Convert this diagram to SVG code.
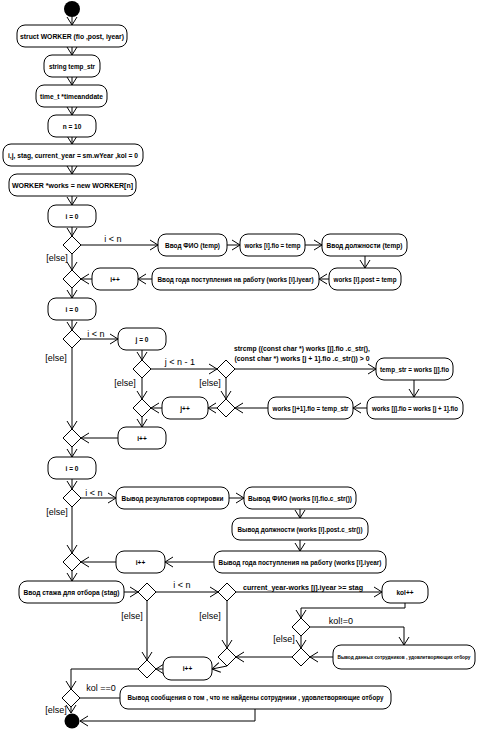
<svg xmlns="http://www.w3.org/2000/svg" width="477" height="731" viewBox="0 0 477 731">
<style>
rect.b{fill:#fff;stroke:#000;stroke-width:1}
polygon.d{fill:#fff;stroke:#000;stroke-width:1}
.t{font-family:"Liberation Sans",Arial,sans-serif;font-size:6.5px;font-weight:bold;text-anchor:middle;dominant-baseline:central}
.l{font-family:"Liberation Sans",Arial,sans-serif;font-size:9px;text-anchor:middle;dominant-baseline:central}
.c path{fill:none;stroke:#000;stroke-width:1}
.c path.a{marker-end:url(#ah)}
</style>
<defs>
<marker id="ah" markerWidth="10" markerHeight="12" refX="9" refY="6" orient="auto" markerUnits="userSpaceOnUse"><path d="M1,1 L9,6 L1,11" fill="none" stroke="#000" stroke-width="1"/></marker>
</defs>
<rect width="477" height="731" fill="#fff"/>
<g class="c" id="connectors">
<path class="a" d="M72,17 V25"/>
<path class="a" d="M72,47 V55"/>
<path class="a" d="M72,77 V85"/>
<path class="a" d="M72,107 V115"/>
<path class="a" d="M72,137 V144"/>
<path class="a" d="M72,166 V174"/>
<path class="a" d="M72,196 V205"/>
<path class="a" d="M72,227 V236"/>
<path class="a" d="M81,245 H158"/>
<path class="a" d="M227,245 H240"/>
<path class="a" d="M305,245 H322"/>
<path class="a" d="M365,256 V268"/>
<path class="a" d="M329,279 H319"/>
<path class="a" d="M152,279 H138"/>
<path class="a" d="M92,279 H81"/>
<path class="a" d="M72,254 V270"/>
<path class="a" d="M72,288 V298"/>
<path class="a" d="M72,320 V330"/>
<path class="a" d="M81,339 H118"/>
<path class="a" d="M72,348 V429"/>
<path class="a" d="M142,350 V360"/>
<path class="a" d="M151,369 H217"/>
<path class="a" d="M235,369 H376"/>
<path class="a" d="M142,378 V399"/>
<path class="a" d="M226,378 V399"/>
<path class="a" d="M414,380 V397"/>
<path class="a" d="M367,408 H353"/>
<path class="a" d="M268,408 H235"/>
<path class="a" d="M217,408 H208"/>
<path class="a" d="M162,408 H151"/>
<path class="a" d="M142,417 V427"/>
<path class="a" d="M118,438 H81"/>
<path class="a" d="M72,447 V457"/>
<path class="a" d="M72,479 V489"/>
<path class="a" d="M81,498 H116"/>
<path class="a" d="M229,498 H244"/>
<path class="a" d="M300,509 V518"/>
<path class="a" d="M300,540 V551"/>
<path class="a" d="M214,562 H165"/>
<path class="a" d="M116,562 H81"/>
<path class="a" d="M72,507 V553"/>
<path class="a" d="M72,571 V581"/>
<path class="a" d="M124,592 H138"/>
<path class="a" d="M156,592 H218"/>
<path class="a" d="M236,592 H382"/>
<path class="a" d="M405,603 V608 H301 V618"/>
<path class="a" d="M310,627 H404 V645"/>
<path class="a" d="M301,636 V648"/>
<path class="a" d="M333,657 H310"/>
<path class="a" d="M292,657 H236"/>
<path class="a" d="M227,601 V648"/>
<path class="a" d="M227,666 L212,669"/>
<path class="a" d="M163,669 H156"/>
<path class="a" d="M147,601 V660"/>
<path class="a" d="M138,669 H71 V689"/>
<path d="M80,698 H120"/>
<path class="a" d="M71,707 V713"/>
<path class="a" d="M255,709 V721 H80"/>
</g>
<g id="labels">
<text class="l" x="113" y="239">i &lt; n</text>
<text class="l" x="57" y="258">[else]</text>
<text class="l" x="96" y="334">i &lt; n</text>
<text class="l" x="56" y="358">[else]</text>
<text class="l" x="180" y="362">j &lt; n - 1</text>
<text class="l" x="125" y="383">[else]</text>
<text class="l" x="210" y="383">[else]</text>
<text class="t" x="302" y="348" textLength="136" lengthAdjust="spacingAndGlyphs">strcmp ((const char *) works [j].fio .c_str(),</text>
<text class="t" x="302" y="358" textLength="135" lengthAdjust="spacingAndGlyphs">(const char *) works [j + 1].fio .c_str()) &gt; 0</text>
<text class="l" x="94" y="493">i &lt; n</text>
<text class="l" x="57" y="512">[else]</text>
<text class="l" x="182" y="585">i &lt; n</text>
<text class="t" x="303" y="587" textLength="120" lengthAdjust="spacingAndGlyphs">current_year-works [j].iyear &gt;= stag</text>
<text class="l" x="132" y="616">[else]</text>
<text class="l" x="210" y="616">[else]</text>
<text class="l" x="341" y="621">kol!=0</text>
<text class="l" x="284" y="639">[else]</text>
<text class="l" x="101" y="688">kol  ==0</text>
<text class="l" x="56" y="710">[else]</text>
</g>
<g id="start"><circle cx="72" cy="9" r="8" fill="#000"/></g>
<g id="n1"><rect class="b" x="17" y="25" width="110" height="22" rx="8"/><text class="t" x="72" y="36" textLength="104" lengthAdjust="spacingAndGlyphs">struct WORKER (fio ,post, iyear)</text></g>
<g id="n2"><rect class="b" x="44" y="55" width="56" height="22" rx="8"/><text class="t" x="72" y="66" textLength="46" lengthAdjust="spacingAndGlyphs">string temp_str</text></g>
<g id="n3"><rect class="b" x="36" y="85" width="71" height="22" rx="8"/><text class="t" x="71.5" y="96" textLength="63" lengthAdjust="spacingAndGlyphs">time_t *timeanddate</text></g>
<g id="n4"><rect class="b" x="48" y="115" width="48" height="22" rx="8"/><text class="t" x="72" y="126">n = 10</text></g>
<g id="n5"><rect class="b" x="3" y="144" width="140" height="22" rx="8"/><text class="t" x="73" y="155" textLength="130" lengthAdjust="spacingAndGlyphs">i,j, stag, current_year = sm.wYear ,kol = 0</text></g>
<g id="n6"><rect class="b" x="9" y="174" width="127" height="22" rx="8"/><text class="t" x="72.5" y="185" textLength="121" lengthAdjust="spacingAndGlyphs">WORKER *works = new WORKER[n]</text></g>
<g id="n7"><rect class="b" x="48" y="205" width="48" height="22" rx="8"/><text class="t" x="72" y="216">i = 0</text></g>
<g id="d1"><polygon class="d" points="72,236 81,245 72,254 63,245"/></g>
<g id="n8"><rect class="b" x="158" y="234" width="69" height="22" rx="8"/><text class="t" x="192.5" y="245" textLength="55" lengthAdjust="spacingAndGlyphs">Ввод ФИО  (temp)</text></g>
<g id="n9"><rect class="b" x="240" y="234" width="65" height="22" rx="8"/><text class="t" x="272.5" y="245" textLength="56" lengthAdjust="spacingAndGlyphs">works [i].fio = temp</text></g>
<g id="n10"><rect class="b" x="322" y="234" width="85" height="22" rx="8"/><text class="t" x="364.5" y="245" textLength="76" lengthAdjust="spacingAndGlyphs">Ввод должности  (temp)</text></g>
<g id="n11"><rect class="b" x="329" y="268" width="72" height="22" rx="8"/><text class="t" x="365" y="279" textLength="63" lengthAdjust="spacingAndGlyphs">works [i].post = temp</text></g>
<g id="n12"><rect class="b" x="152" y="268" width="167" height="22" rx="8"/><text class="t" x="235.5" y="279" textLength="156" lengthAdjust="spacingAndGlyphs">Ввод года поступления на работу  (works [i].iyear)</text></g>
<g id="n13"><rect class="b" x="92" y="268" width="46" height="22" rx="8"/><text class="t" x="115" y="279">i++</text></g>
<g id="d2"><polygon class="d" points="72,270 81,279 72,288 63,279"/></g>
<g id="n14"><rect class="b" x="48" y="298" width="48" height="22" rx="8"/><text class="t" x="72" y="309">i = 0</text></g>
<g id="d3"><polygon class="d" points="72,330 81,339 72,348 63,339"/></g>
<g id="n15"><rect class="b" x="118" y="328" width="48" height="22" rx="8"/><text class="t" x="142" y="339">j = 0</text></g>
<g id="d4"><polygon class="d" points="142,360 151,369 142,378 133,369"/></g>
<g id="d5"><polygon class="d" points="226,360 235,369 226,378 217,369"/></g>
<g id="n16"><rect class="b" x="376" y="358" width="77" height="22" rx="8"/><text class="t" x="414.5" y="369" textLength="69" lengthAdjust="spacingAndGlyphs">temp_str = works [j].fio</text></g>
<g id="n17"><rect class="b" x="367" y="397" width="96" height="22" rx="8"/><text class="t" x="415" y="408" textLength="86" lengthAdjust="spacingAndGlyphs">works [j].fio = works [j + 1].fio</text></g>
<g id="n18"><rect class="b" x="268" y="397" width="85" height="22" rx="8"/><text class="t" x="310.5" y="408" textLength="76" lengthAdjust="spacingAndGlyphs">works [j+1].fio = temp_str</text></g>
<g id="d7"><polygon class="d" points="226,399 235,408 226,417 217,408"/></g>
<g id="n19"><rect class="b" x="162" y="397" width="46" height="22" rx="8"/><text class="t" x="185" y="408">j++</text></g>
<g id="d6"><polygon class="d" points="142,399 151,408 142,417 133,408"/></g>
<g id="n20"><rect class="b" x="118" y="427" width="48" height="22" rx="8"/><text class="t" x="142" y="438">i++</text></g>
<g id="d8"><polygon class="d" points="72,429 81,438 72,447 63,438"/></g>
<g id="n21"><rect class="b" x="48" y="457" width="48" height="22" rx="8"/><text class="t" x="72" y="468">i = 0</text></g>
<g id="d9"><polygon class="d" points="72,489 81,498 72,507 63,498"/></g>
<g id="n22"><rect class="b" x="116" y="487" width="113" height="22" rx="8"/><text class="t" x="172.5" y="498" textLength="102" lengthAdjust="spacingAndGlyphs">Вывод результатов сортировки</text></g>
<g id="n23"><rect class="b" x="244" y="487" width="112" height="22" rx="8"/><text class="t" x="300" y="498" textLength="104" lengthAdjust="spacingAndGlyphs">Вывод ФИО  (works [i].fio.c_str())</text></g>
<g id="n24"><rect class="b" x="232" y="518" width="136" height="22" rx="8"/><text class="t" x="300" y="529" textLength="125" lengthAdjust="spacingAndGlyphs">Вывод должности  (works [i].post.c_str())</text></g>
<g id="n25"><rect class="b" x="214" y="551" width="172" height="22" rx="8"/><text class="t" x="300" y="562" textLength="163" lengthAdjust="spacingAndGlyphs">Вывод года поступления на работу  (works [i].iyear)</text></g>
<g id="n26"><rect class="b" x="116" y="551" width="49" height="22" rx="8"/><text class="t" x="140.5" y="562">i++</text></g>
<g id="d10"><polygon class="d" points="72,553 81,562 72,571 63,562"/></g>
<g id="n27"><rect class="b" x="19" y="581" width="105" height="22" rx="8"/><text class="t" x="71.5" y="592" textLength="96" lengthAdjust="spacingAndGlyphs">Ввод стажа для отбора  (stag)</text></g>
<g id="d11"><polygon class="d" points="147,583 156,592 147,601 138,592"/></g>
<g id="d12"><polygon class="d" points="227,583 236,592 227,601 218,592"/></g>
<g id="n28"><rect class="b" x="382" y="581" width="46" height="22" rx="8"/><text class="t" x="405" y="592">kol++</text></g>
<g id="d13"><polygon class="d" points="301,618 310,627 301,636 292,627"/></g>
<g id="n29"><rect class="b" x="333" y="645" width="142" height="24" rx="8"/><text class="t" x="404" y="657" style="font-size:5px" textLength="133" lengthAdjust="spacingAndGlyphs">Вывод данных сотрудников    , удовлетворяющих отбору</text></g>
<g id="d14"><polygon class="d" points="301,648 310,657 301,666 292,657"/></g>
<g id="d15"><polygon class="d" points="227,648 236,657 227,666 218,657"/></g>
<g id="n30"><rect class="b" x="163" y="657" width="49" height="23" rx="8"/><text class="t" x="187.5" y="668.5">i++</text></g>
<g id="d16"><polygon class="d" points="147,660 156,669 147,678 138,669"/></g>
<g id="d17"><polygon class="d" points="71,689 80,698 71,707 62,698"/></g>
<g id="n31"><rect class="b" x="120" y="686" width="271" height="23" rx="8"/><text class="t" x="255.5" y="697.5" textLength="256" lengthAdjust="spacingAndGlyphs">Вывод сообщения о том  , что не найдены сотрудники  , удовлетворяющие отбору</text></g>
<g id="end"><circle cx="72" cy="721" r="7.5" fill="#000"/></g>
</svg>
